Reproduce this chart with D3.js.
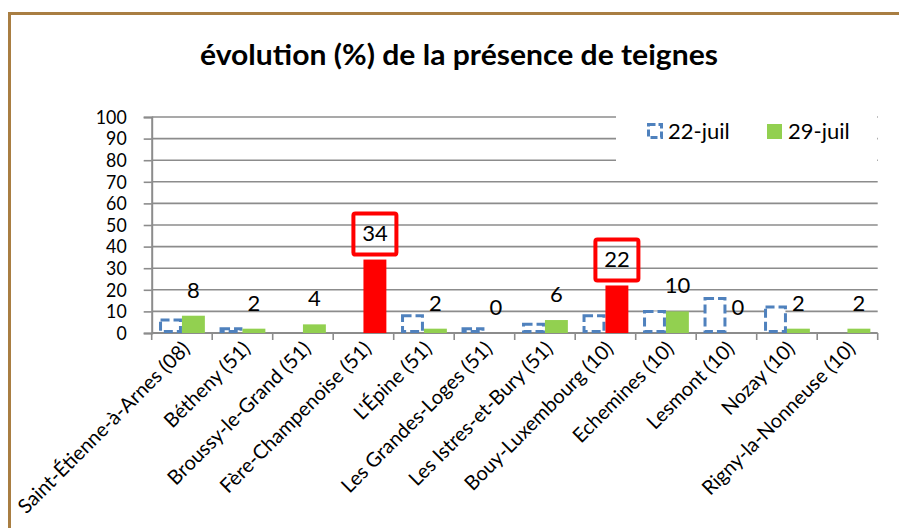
<!DOCTYPE html>
<html><head><meta charset="utf-8">
<script src="https://cdn.jsdelivr.net/npm/d3@7"></script>
<style>html,body{margin:0;padding:0;background:#fff;}svg{display:block;}</style>
</head><body>
<script>
const categories = ["Saint-Étienne-à-Arnes (08)","Bétheny (51)","Broussy-le-Grand (51)","Fère-Champenoise (51)","L'Épine (51)","Les Grandes-Loges (51)","Les Istres-et-Bury (51)","Bouy-Luxembourg (10)","Echemines (10)","Lesmont (10)","Nozay (10)","Rigny-la-Nonneuse (10)"];
const series = ["22-juil","29-juil"];
const juil22 = [6,2,0,0,8,2,4,8,10,16,12,0];
const juil29 = [8,2,4,34,2,0,6,22,10,0,2,2];
const highlighted = [false,false,false,true,false,false,false,true,false,false,false,false];
const yTicks = [0,10,20,30,40,50,60,70,80,90,100];
const title = "évolution (%) de la présence de teignes";

const W = 899, H = 528;
const font = "Lato, 'Open Sans', sans-serif";
const svg = d3.select("body").append("svg").attr("width", W).attr("height", H);
svg.append("rect").attr("width", W).attr("height", H).attr("fill", "#fff");

// frame
svg.append("path").attr("d", `M9.5,${H} L9.5,13.5 L${W},13.5`).attr("fill","none")
  .attr("stroke","#A97E42").attr("stroke-width",3);

// title
svg.append("text").attr("x", 459).attr("y", 65).attr("text-anchor","middle")
  .attr("font-family", font).attr("font-weight","bold").attr("font-size", 28)
  .attr("textLength", 518).attr("lengthAdjust","spacingAndGlyphs")
  .attr("fill","#000").text(title);

const x0 = d3.scaleBand().domain(categories).range([151.7, 877.7]).padding(0);
const x1 = d3.scaleBand().domain(series).range([0, x0.bandwidth()]).paddingInner(0).paddingOuter(0.32);
const y = d3.scaleLinear().domain([0,100]).range([333, 117]);
const grey = "#8C8C8C";

// gridlines
svg.append("g").selectAll("line").data(yTicks.filter(d=>d>0)).join("line")
  .attr("x1", 151.7).attr("x2", 877.7).attr("y1", d=>y(d)).attr("y2", d=>y(d))
  .attr("stroke", grey).attr("stroke-width", 1.6);

// y axis
const yAxis = d3.axisLeft(y).tickValues(yTicks).tickSize(8).tickPadding(17);
const gy = svg.append("g").attr("transform","translate(151.7,0)").call(yAxis);
gy.select(".domain").attr("stroke", grey).attr("stroke-width", 2);
gy.selectAll(".tick line").attr("stroke", grey).attr("stroke-width", 1.6);
gy.selectAll(".tick text").attr("font-family", font).attr("font-size", 19.5).attr("fill","#000")
  .attr("textLength", d => String(d).length * 10.3).attr("lengthAdjust","spacingAndGlyphs");

// x axis
const edges = categories.map(c => x0(c)).concat([x0.range()[1]]);
svg.append("line").attr("x1",151.7).attr("x2",877.7).attr("y1",333).attr("y2",333)
  .attr("stroke",grey).attr("stroke-width",2);
svg.append("g").selectAll("line").data(edges).join("line")
  .attr("x1", d=>d).attr("x2", d=>d).attr("y1", 333).attr("y2", 340)
  .attr("stroke", grey).attr("stroke-width", 1.6);

// category labels
svg.append("g").selectAll("text").data(categories).join("text")
  .attr("transform", d => `translate(${x0(d)+x0.bandwidth()/2+9},${350}) rotate(-45)`)
  .attr("text-anchor","end").attr("font-family", font).attr("font-size", 20)
  .attr("fill","#000").text(d=>d);

// bars 22-juil (dashed outline)
const blue = "#4F81BD";
svg.append("g").selectAll("rect").data(categories.map((c,i)=>({c, v:juil22[i]})).filter(d=>d.v>0)).join("rect")
  .attr("x", d => x0(d.c)+x1("22-juil")+1.5).attr("width", x1.bandwidth()-3)
  .attr("y", d => y(d.v)).attr("height", d => y(0)-y(d.v)-1.5)
  .attr("fill","#fff").attr("stroke", blue).attr("stroke-width", 3)
  .attr("stroke-dasharray","9,4");

// bars 29-juil
svg.append("g").selectAll("rect").data(categories.map((c,i)=>({c, v:juil29[i], hl:highlighted[i]}))).join("rect")
  .attr("x", d => x0(d.c)+x1("29-juil")).attr("width", x1.bandwidth())
  .attr("y", d => y(d.v)).attr("height", d => y(0)-y(d.v))
  .attr("fill", d => d.hl ? "#FF0000" : "#92D050");

// value labels
const lab = categories.map((c,i)=>({c, v:juil29[i], hl:highlighted[i]}));
const lx = d => x0(d.c)+x1("29-juil")+x1.bandwidth()/2;
const ly = d => y(d.v)-26;
svg.append("g").selectAll("rect").data(lab.filter(d=>d.hl)).join("rect")
  .attr("x", d => lx(d)-21.5).attr("y", d => ly(d)-20).attr("width", 43).attr("height", 41)
  .attr("rx", 2).attr("fill","none").attr("stroke","#FF0000").attr("stroke-width", 4);
svg.append("g").selectAll("text").data(lab).join("text")
  .attr("x", lx).attr("y", ly).attr("dy","0.36em").attr("text-anchor","middle")
  .attr("font-family", font).attr("font-size", 22).attr("fill","#000").text(d=>d.v);

// legend
svg.append("rect").attr("x", 616).attr("y", 106).attr("width", 261).attr("height", 62).attr("fill","#fff");
svg.append("rect").attr("x", 648.5).attr("y", 124.5).attr("width", 13).attr("height", 13)
  .attr("fill","#fff").attr("stroke", blue).attr("stroke-width",3).attr("stroke-dasharray","7,3");
svg.append("text").attr("x", 668).attr("y", 131).attr("dy","0.36em").attr("font-family", font)
  .attr("font-size", 22).attr("fill","#000").text(series[0]);
svg.append("rect").attr("x", 767).attr("y", 124).attr("width", 15).attr("height", 15).attr("fill","#92D050");
svg.append("text").attr("x", 788).attr("y", 131).attr("dy","0.36em").attr("font-family", font)
  .attr("font-size", 22).attr("fill","#000").text(series[1]);
</script>
</body></html>
